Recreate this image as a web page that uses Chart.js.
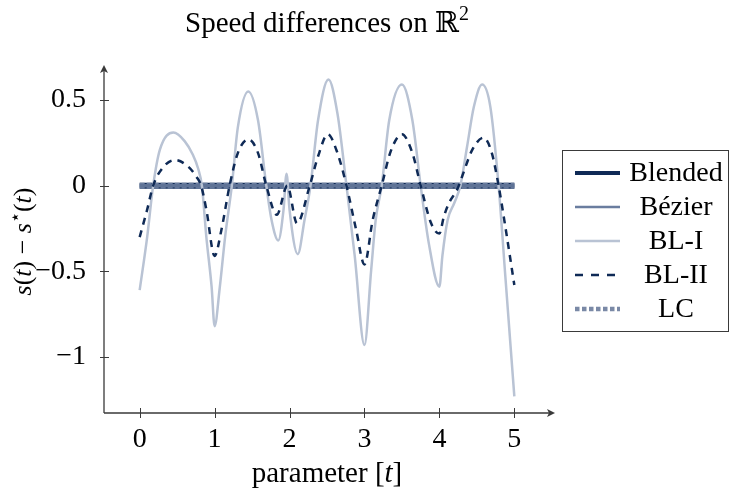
<!DOCTYPE html>
<html>
<head>
<meta charset="utf-8">
<script src="https://cdn.jsdelivr.net/npm/chart.js@4.4.1/dist/chart.umd.min.js"></script>
<style>
html, body { margin:0; padding:0; background:#fff; }
#wrap { width:733px; height:493px; }
</style>
</head>
<body>
<div id="wrap"><canvas id="speedChart" width="733" height="493"></canvas></div>
<script>
// tick labels
var xTicks = [0, 1, 2, 3, 4, 5];
var yTicks = [-1, -0.5, 0, 0.5];

// flat series (Blended, Bezier, LC all sit on zero)
var tFlat = [0, 5];
var vFlat = [0, 0];

// BL-I
var tBL1 = [0, 0.10, 0.18, 0.27, 0.45, 0.60, 0.71, 0.78, 0.83, 0.89, 0.96, 1.00, 1.07, 1.14, 1.23, 1.31, 1.45, 1.58, 1.69, 1.76, 1.85, 1.92, 1.96, 2.00, 2.11, 2.20, 2.28, 2.38, 2.52, 2.64, 2.76, 2.87, 3.00, 3.09, 3.15, 3.23, 3.33, 3.50, 3.64, 3.75, 3.86, 4.00, 4.04, 4.11, 4.20, 4.28, 4.37, 4.46, 4.57, 4.68, 4.79, 4.88, 4.94, 5.00];
var vBL1 = [-0.61, -0.30, 0, 0.21, 0.31, 0.26, 0.18, 0.10, 0, -0.30, -0.59, -0.82, -0.59, -0.30, 0, 0.34, 0.55, 0.38, 0, -0.20, -0.32, -0.14, 0.07, -0.14, -0.40, -0.20, 0, 0.38, 0.62, 0.42, 0, -0.41, -0.93, -0.49, -0.20, 0, 0.38, 0.59, 0.38, 0, -0.34, -0.59, -0.41, -0.20, -0.10, 0, 0.23, 0.46, 0.59, 0.46, 0, -0.53, -0.88, -1.23];

// BL-II
var tBL2 = [0, 0.10, 0.18, 0.30, 0.47, 0.65, 0.76, 0.82, 0.89, 1.00, 1.09, 1.20, 1.31, 1.45, 1.58, 1.69, 1.83, 1.97, 2.10, 2.27, 2.38, 2.51, 2.64, 2.76, 2.89, 3.00, 3.11, 3.23, 3.35, 3.50, 3.64, 3.75, 3.89, 4.00, 4.06, 4.13, 4.24, 4.30, 4.44, 4.59, 4.70, 4.79, 4.88, 5.00];
var vBL2 = [-0.30, -0.14, 0, 0.10, 0.15, 0.11, 0.05, 0, -0.14, -0.41, -0.26, 0, 0.19, 0.27, 0.19, 0, -0.17, 0, -0.22, 0, 0.17, 0.30, 0.19, 0, -0.26, -0.46, -0.20, 0, 0.20, 0.30, 0.19, 0, -0.22, -0.28, -0.18, -0.10, -0.02, 0.05, 0.21, 0.28, 0.19, 0, -0.24, -0.58];

var NAVY = '#0f2a56';
var MID = '#6a7d9f';
var LIGHT = '#b9c3d4';
var FONT = '"Liberation Serif", "DejaVu Serif", serif';

function pts(ts, vs){
    return ts.map(function(t, i){ return {x: t, y: vs[i]}; });
}

function fmt(v){
    return v < 0 ? '\u2212' + Math.abs(v) : String(v);
}

// draw a line of mixed upright / italic text centred on cx
function richText(ctx, segs, cx, y, size){
    var total = 0;
    segs.forEach(function(s){
        ctx.font = (s.it ? 'italic ' : '') + Math.round(s.sup ? size*0.7 : size) + 'px ' + FONT;
        s.w = ctx.measureText(s.t).width;
        total += s.w;
    });
    var x = cx - total/2;
    segs.forEach(function(s){
        ctx.font = (s.it ? 'italic ' : '') + Math.round(s.sup ? size*0.7 : size) + 'px ' + FONT;
        ctx.fillText(s.t, x, s.sup ? y - size*0.4 : y);
        x += s.w;
    });
}

var legendItems = [
    {label:'Blended', color:NAVY, width:4, dash:[]},
    {label:'B\u00e9zier', color:MID, width:2.5, dash:[]},
    {label:'BL-I', color:LIGHT, width:2.5, dash:[]},
    {label:'BL-II', color:NAVY, width:2.5, dash:[8,8]},
    {label:'LC', color:'#7a89a6', width:4.5, dash:[4.5,2.5]}
];

var decor = {
    id: 'decor',
    afterDraw: function(chart){
        var ctx = chart.ctx, a = chart.chartArea;
        var xs = chart.scales.x, ys = chart.scales.y;
        ctx.save();
        ctx.strokeStyle = '#3a3a3a';
        ctx.fillStyle = '#3a3a3a';
        ctx.lineWidth = 1.3;
        ctx.setLineDash([]);
        // axes
        ctx.beginPath();
        ctx.moveTo(a.left, a.bottom); ctx.lineTo(a.right, a.bottom);
        ctx.moveTo(a.left, a.bottom); ctx.lineTo(a.left, a.top);
        ctx.stroke();
        // arrow heads
        ctx.beginPath();
        ctx.moveTo(a.right + 5, a.bottom); ctx.lineTo(a.right - 3, a.bottom - 4);
        ctx.lineTo(a.right - 1, a.bottom); ctx.lineTo(a.right - 3, a.bottom + 4); ctx.closePath();
        ctx.fill();
        ctx.beginPath();
        ctx.moveTo(a.left, a.top - 5); ctx.lineTo(a.left - 4, a.top + 3);
        ctx.lineTo(a.left, a.top + 1); ctx.lineTo(a.left + 4, a.top + 3); ctx.closePath();
        ctx.fill();
        // tick marks
        ctx.lineWidth = 1;
        ctx.beginPath();
        xTicks.forEach(function(v){
            var px = Math.round(xs.getPixelForValue(v)) + 0.5;
            ctx.moveTo(px, a.bottom - 5); ctx.lineTo(px, a.bottom + 5);
        });
        yTicks.forEach(function(v){
            var py = Math.round(ys.getPixelForValue(v)) + 0.5;
            ctx.moveTo(a.left - 4, py); ctx.lineTo(a.left + 5, py);
        });
        ctx.stroke();

        // titles
        ctx.fillStyle = '#000';
        ctx.textAlign = 'left';
        ctx.textBaseline = 'alphabetic';
        richText(ctx, [{t:'Speed differences on '}, {t:'\u211d'}, {t:'2', sup:true}], (a.left + a.right)/2, 32, 29);
        richText(ctx, [{t:'parameter ['}, {t:'t', it:true}, {t:']'}], (a.left + a.right)/2, 482, 29);
        ctx.save();
        ctx.translate(31, (a.top + a.bottom)/2);
        ctx.rotate(-Math.PI/2);
        richText(ctx, [{t:'s', it:true}, {t:'('}, {t:'t', it:true}, {t:') \u2212 '}, {t:'s', it:true}, {t:'\u22c6', sup:true}, {t:'('}, {t:'t', it:true}, {t:')'}], 0, 0, 26);
        ctx.restore();

        // legend box
        var bx = 562.5, by = 150.5, bw = 166, bh = 181;
        ctx.strokeStyle = '#3a3a3a';
        ctx.lineWidth = 1;
        ctx.strokeRect(bx, by, bw, bh);
        ctx.font = '28px ' + FONT;
        ctx.textAlign = 'center';
        ctx.textBaseline = 'middle';
        legendItems.forEach(function(it, i){
            var ly = 173 + i*34;
            ctx.strokeStyle = it.color;
            ctx.lineWidth = it.width;
            ctx.setLineDash(it.dash);
            ctx.beginPath();
            ctx.moveTo(575, ly); ctx.lineTo(620, ly);
            ctx.stroke();
            ctx.setLineDash([]);
            ctx.fillStyle = '#000';
            ctx.fillText(it.label, 676, ly + 1);
        });
        ctx.restore();
    }
};

new Chart(document.getElementById('speedChart'), {
    type: 'scatter',
    data: {
        datasets: [
            {label:'Blended', data:pts(tFlat, vFlat), showLine:true, borderColor:NAVY, borderWidth:6, pointRadius:0, order:5},
            {label:'LC', data:pts(tFlat, vFlat), showLine:true, borderColor:MID, borderWidth:6, borderDash:[5,2], pointRadius:0, order:4},
            {label:'B\u00e9zier', data:pts(tFlat, vFlat), showLine:true, borderColor:'#5f7396', borderWidth:3.5, pointRadius:0, order:3},
            {label:'BL-I', data:pts(tBL1, vBL1), showLine:true, borderColor:LIGHT, borderWidth:2.5, pointRadius:0, cubicInterpolationMode:'monotone', order:2},
            {label:'BL-II', data:pts(tBL2, vBL2), showLine:true, borderColor:NAVY, borderWidth:2.5, borderDash:[7,6], pointRadius:0, cubicInterpolationMode:'monotone', order:1}
        ]
    },
    options: {
        responsive:false,
        animation:false,
        devicePixelRatio:1,
        layout:{padding:{top:70, right:183, left:0, bottom:0}},
        plugins:{legend:{display:false}, tooltip:{enabled:false}},
        scales:{
            x:{
                type:'linear', min:-0.476, max:5.476,
                grid:{display:false, drawTicks:false}, border:{display:false},
                afterBuildTicks:function(s){ s.ticks = xTicks.map(function(v){ return {value:v}; }); },
                afterFit:function(s){ s.height = 80; },
                ticks:{color:'#000', font:{family:FONT, size:28}, padding:10, maxRotation:0, callback:function(v){ return fmt(v); }}
            },
            y:{
                type:'linear', min:-1.327, max:0.675,
                grid:{display:false, drawTicks:false}, border:{display:false},
                afterBuildTicks:function(s){ s.ticks = yTicks.map(function(v){ return {value:v}; }); },
                afterFit:function(s){ s.width = 104; },
                ticks:{color:'#000', font:{family:FONT, size:28}, padding:18, callback:function(v){ return fmt(v); }}
            }
        }
    },
    plugins:[decor]
});
</script>
</body>
</html>
